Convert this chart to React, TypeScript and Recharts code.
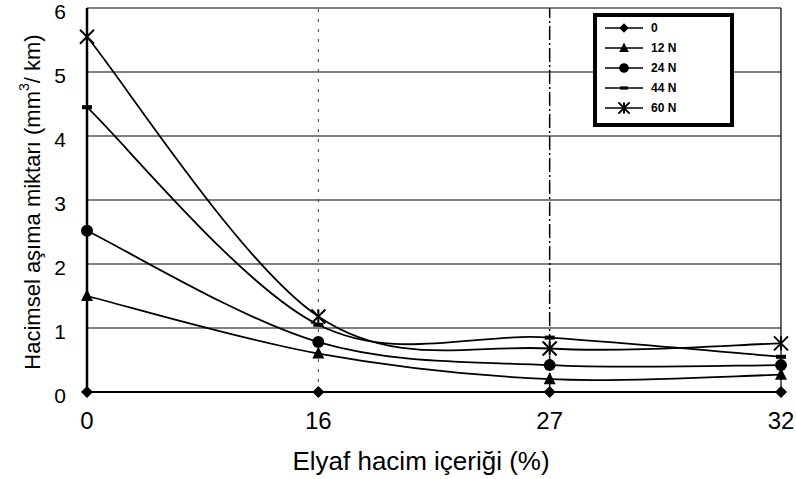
import React from "react";
import { LineChart, Line, XAxis, YAxis, CartesianGrid, ReferenceLine, Legend } from "recharts";

const FONT = '"Liberation Sans", Arial, sans-serif';

// fibre content categories (%)
const categories = ["0", "16", "27", "32"];
const yTicks = [0, 1, 2, 3, 4, 5, 6];

// wear volume (mm3/km) per load
const load0 = [0, 0, 0, 0];
const load12 = [1.5, 0.6, 0.2, 0.27];
const load24 = [2.52, 0.78, 0.42, 0.42];
const load44 = [4.45, 1.05, 0.85, 0.55];
const load60 = [5.55, 1.18, 0.68, 0.76];

const seriesNames = ["0", "12 N", "24 N", "44 N", "60 N"];
const seriesKinds = ["diamond", "triangle", "circle", "dash", "star"];

const data = categories.map((c, i) => ({
    x: c,
    s0: load0[i],
    s12: load12[i],
    s24: load24[i],
    s44: load44[i],
    s60: load60[i],
}));

// spreadsheet-style smoothed line (catmull-rom through the points)
function smoothCurve(context: any) {
    let pts: number[][] = [];
    return {
        areaStart() {},
        areaEnd() {},
        lineStart() {
            pts = [];
        },
        point(x: number, y: number) {
            pts.push([+x, +y]);
        },
        lineEnd() {
            const n = pts.length;
            if (!n) return;
            context.moveTo(pts[0][0], pts[0][1]);
            for (let i = 0; i < n - 1; i++) {
                const p0 = pts[Math.max(i - 1, 0)];
                const p1 = pts[i];
                const p2 = pts[i + 1];
                const p3 = pts[Math.min(i + 2, n - 1)];
                context.bezierCurveTo(
                    p1[0] + (p2[0] - p0[0]) / 6,
                    p1[1] + (p2[1] - p0[1]) / 6,
                    p2[0] - (p3[0] - p1[0]) / 6,
                    p2[1] - (p3[1] - p1[1]) / 6,
                    p2[0],
                    p2[1]
                );
            }
        },
    };
}

function Marker({ kind, cx, cy, k = 1 }: { kind: string; cx: number; cy: number; k?: number }) {
    if (cx == null || cy == null) return null;
    if (kind === "diamond") {
        const r = 6 * k;
        return <polygon points={`${cx},${cy - r} ${cx + r},${cy} ${cx},${cy + r} ${cx - r},${cy}`} fill="#000" />;
    }
    if (kind === "triangle") {
        return <polygon points={`${cx},${cy - 7 * k} ${cx + 6 * k},${cy + 5 * k} ${cx - 6 * k},${cy + 5 * k}`} fill="#000" />;
    }
    if (kind === "circle") {
        return <circle cx={cx} cy={cy} r={6 * k} fill="#000" />;
    }
    if (kind === "dash") {
        return <rect x={cx - 5 * k} y={cy - 2 * k} width={10 * k} height={4 * k} fill="#000" />;
    }
    const r = 7 * k;
    return (
        <g stroke="#000" strokeWidth={2}>
            <line x1={cx - r} y1={cy - r} x2={cx + r} y2={cy + r} />
            <line x1={cx - r} y1={cy + r} x2={cx + r} y2={cy - r} />
            <line x1={cx} y1={cy - r} x2={cx} y2={cy + r} />
        </g>
    );
}

const dotFor = (kind: string) => (props: any) => (
    <Marker key={`${kind}-${props.index}`} kind={kind} cx={props.cx} cy={props.cy} />
);

function LegendBox() {
    return (
        <div
            style={{
                boxSizing: "border-box",
                width: 141,
                height: 114,
                border: "4px solid #000",
                background: "#fff",
                padding: "1px 0 0 8px",
            }}
        >
            {seriesNames.map((name, i) => (
                <div key={name} style={{ display: "flex", alignItems: "center", height: 20 }}>
                    <svg width={38} height={16}>
                        <line x1={0} y1={8} x2={38} y2={8} stroke="#000" strokeWidth={1.5} />
                        <Marker kind={seriesKinds[i]} cx={19} cy={8} k={0.8} />
                    </svg>
                    <span style={{ marginLeft: 8, fontFamily: FONT, fontWeight: "bold", fontSize: 12, color: "#000" }}>
                        {name}
                    </span>
                </div>
            ))}
        </div>
    );
}

function YTitle() {
    return (
        <text
            transform="translate(32,202) rotate(-90)"
            textAnchor="middle"
            dominantBaseline="central"
            fontFamily={FONT}
            fontSize={22}
            fill="#000"
        >
            Hacimsel aşıma miktarı (mm
            <tspan baselineShift="super" fontSize={14}>3</tspan>
            <tspan>/ km)</tspan>
        </text>
    );
}

export default function App() {
    const keys = ["s0", "s12", "s24", "s44", "s60"];
    return (
        <div style={{ position: "absolute", left: 0, top: 0, background: "#fff" }}>
            <LineChart width={796} height={479} data={data} margin={{ top: 8, right: 15, left: 0, bottom: 0 }}>
                <CartesianGrid vertical={false} stroke="#000" strokeWidth={1.2} />
                <ReferenceLine x="16" stroke="#444" strokeWidth={1} strokeDasharray="3 7" />
                <ReferenceLine x="27" stroke="#000" strokeWidth={1.5} strokeDasharray="14 3 2 3" />
                <ReferenceLine x="32" stroke="#000" strokeWidth={1.2} />
                <XAxis
                    dataKey="x"
                    axisLine={false}
                    tickLine={false}
                    tickSize={0}
                    tickMargin={20}
                    height={87}
                    tick={{ fill: "#000", fontSize: 24, fontFamily: FONT }}
                    label={{
                        value: "Elyaf hacim içeriği (%)",
                        position: "insideBottom",
                        offset: 9,
                        dx: -13,
                        fill: "#000",
                        fontSize: 26,
                        fontFamily: FONT,
                    }}
                />
                <YAxis
                    type="number"
                    domain={[0, 6]}
                    ticks={yTicks}
                    interval={0}
                    width={87}
                    axisLine={{ stroke: "#000", strokeWidth: 2.5 }}
                    tickLine={false}
                    tickSize={0}
                    tickMargin={21}
                    tick={{ fill: "#000", fontSize: 21, fontFamily: FONT, dy: 4 }}
                    label={() => <YTitle />}
                />
                <Legend
                    layout="horizontal"
                    verticalAlign="middle"
                    align="center"
                    content={() => <LegendBox />}
                    wrapperStyle={{ position: "absolute", left: 593, top: 13, width: 141, height: 114 }}
                />
                {keys.map((k, i) => (
                    <Line
                        key={k}
                        type={smoothCurve as any}
                        dataKey={k}
                        name={seriesNames[i]}
                        stroke="#000"
                        strokeWidth={1.8}
                        dot={dotFor(seriesKinds[i])}
                        activeDot={false}
                        isAnimationActive={false}
                    />
                ))}
            </LineChart>
        </div>
    );
}
